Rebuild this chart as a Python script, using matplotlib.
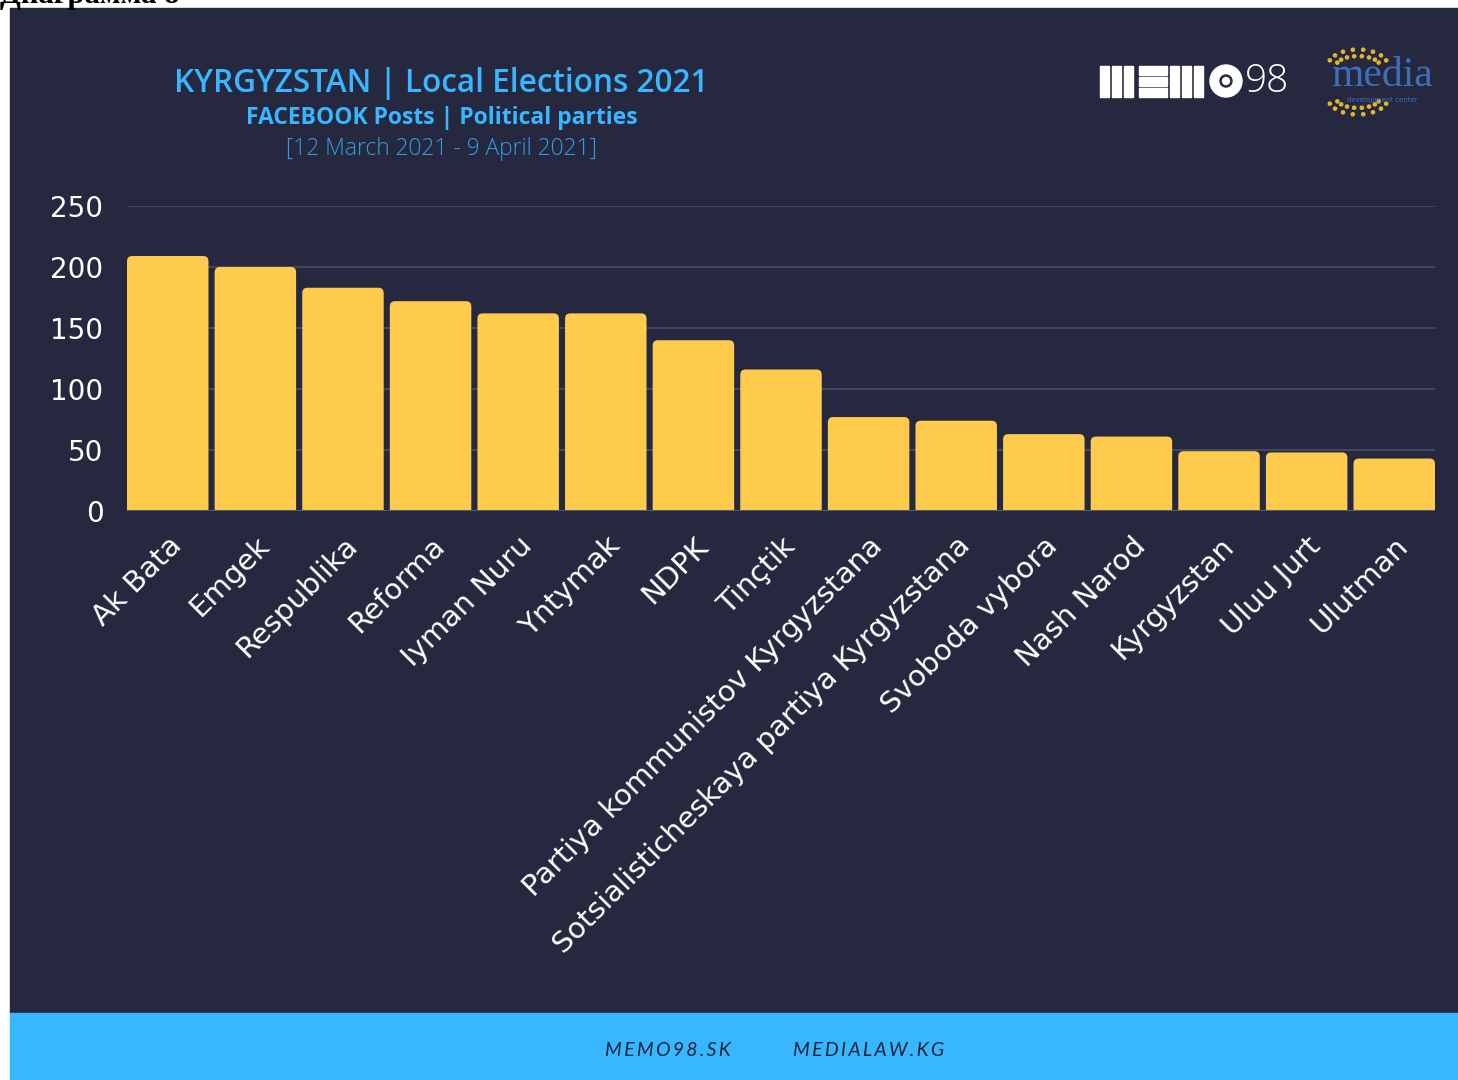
import numpy as np
import matplotlib.pyplot as plt
from matplotlib.patches import Rectangle, Circle, FancyBboxPatch

parties = ['Ak Bata', 'Emgek', 'Respublika', 'Reforma', 'Iyman Nuru', 'Yntymak',
           'NDPK', 'Tinçtik', 'Partiya kommunistov Kyrgyzstana',
           'Sotsialisticheskaya partiya Kyrgyzstana', 'Svoboda vybora',
           'Nash Narod', 'Kyrgyzstan', 'Uluu Jurt', 'Ulutman']
posts = [209, 200, 183, 172, 162, 162, 140, 116, 77, 74, 63, 61, 49, 48, 43]
yticks = [0, 50, 100, 150, 200, 250]

bg = '#262840'
yellow = '#FECB4D'
blue = '#38B6FF'

W, H = 1458, 1080
fig = plt.figure(figsize=(W / 100, H / 100), dpi=100)
fig.patch.set_facecolor('white')

def px(x, y):
    # pixel coords (top-left origin) -> figure fraction
    return x / W, 1 - y / H

# dark panel and footer
fig.patches.append(Rectangle(px(10, 1013), (W - 10) / W, 1005 / H,
                             transform=fig.transFigure, color=bg, zorder=-2))
fig.patches.append(Rectangle(px(10, 1080), (W - 10) / W, 67 / H,
                             transform=fig.transFigure, color=blue, zorder=-2))

# cut-off caption at very top
fig.text(0.0, 1 - 3 / H, 'Диаграмма 8', family='Liberation Serif',
         fontsize=22, fontweight='bold', color='black', va='baseline')

ax = fig.add_axes([127 / W, 1 - 511 / H, (1435 - 127) / W, 305 / H], zorder=1)
ax.set_facecolor(bg)
x = np.arange(len(parties))
bars = ax.bar(x, posts, width=0.93, color=yellow, zorder=3)
ax.set_xlim(-0.465, len(parties) - 0.535)
ax.set_ylim(0, 250)

# rounded tops: replace each bar with a rounded box of the same geometry
aspect = (305 / 250) ** -1 * (1308 / (len(parties) - 0.07))
for b in bars:
    b.set_visible(False)
    rb = FancyBboxPatch((b.get_x(), -10), b.get_width(), b.get_height() + 10,
                        boxstyle='round,pad=0,rounding_size=0.06',
                        mutation_aspect=aspect, facecolor=yellow,
                        edgecolor='none', zorder=3)
    ax.add_patch(rb)

ax.set_yticks(yticks)
ax.yaxis.grid(True, color='#4b4d63', linewidth=1.2, zorder=0)
ax.axhline(0, color='#5a5c70', linewidth=1.5, zorder=4)
for s in ax.spines.values():
    s.set_visible(False)
ax.tick_params(axis='both', length=0, colors='white')
ax.tick_params(axis='y', pad=17)
for lab in ax.get_yticklabels():
    lab.set_fontsize(20)
    lab.set_family('DejaVu Sans')
ax.set_xticks(x)
ax.set_xticklabels(parties, rotation=45, ha='right', rotation_mode='anchor',
                   fontsize=21, family='DejaVu Sans', color='white')
ax.tick_params(axis='x', pad=15)

# titles
fig.text(*px(441, 83), 'KYRGYZSTAN | Local Elections 2021', ha='center', va='center',
         fontsize=22.7, fontweight='semibold', family='Open Sans', color=blue)
fig.text(*px(442, 118), 'FACEBOOK Posts | Political parties', ha='center', va='center',
         fontsize=16.5, fontweight='bold', family='Open Sans', color=blue)
fig.text(*px(442, 149), '[12 March 2021 - 9 April 2021]', ha='center', va='center',
         fontsize=16.4, fontweight='light', family='Open Sans', color='#2f9de0')

# MEMO98 logo
def box(x0, y0, w, h):
    fig.patches.append(Rectangle(px(x0, y0 + h), w / W, h / H,
                                 transform=fig.transFigure, color='white', zorder=5))
for i in range(3):
    box(1100 + i * 12, 66, 9, 31)
for i in range(3):
    box(1139, 66 + i * 11, 28, 9)
for i in range(3):
    box(1170 + i * 12, 66, 9, 31)
cx, cy = 1226, H - 81
fig.patches.append(Circle((cx, cy), 16, transform=None, color='white', zorder=5))
fig.patches.append(Circle((cx, cy), 6, transform=None, color=bg, zorder=6))
fig.patches.append(Circle((cx, cy), 3.5, transform=None, color='white', zorder=7))
fig.text(*px(1267, 82), '98', ha='center', va='center', fontsize=28,
         family='Open Sans', fontweight='light', color='white')

# media development center logo
fig.text(*px(1382, 76), 'media', ha='center', va='center', fontsize=30,
         family='Liberation Serif', color='#3d6fb8', zorder=6)
fig.text(*px(1382, 100), 'development center', ha='center', va='center', fontsize=5,
         family='DejaVu Sans', color='#3d6fb8', zorder=6)
ang = np.linspace(0.35, np.pi - 0.35, 8)
for r, k in [(30, 0.55), (22, 0.45)]:
    dx = 1358 + r * np.cos(ang)
    top = 66 - k * r * np.sin(ang)
    bot = 98 + k * r * np.sin(ang)
    for a, b in zip(dx, top):
        fig.patches.append(Circle((a, H - b), 1.6, transform=None,
                                  color='#e0b82a', zorder=4))
    for a, b in zip(dx, bot):
        fig.patches.append(Circle((a, H - b), 1.6, transform=None,
                                  color='#e0b82a', zorder=4))

# footer
ft = '\u2009'
fig.text(*px(668, 1050), ft.join('MEMO98.SK'), ha='center', va='center', fontsize=14,
         family=['Lato', 'DejaVu Sans'], style='italic', color='#14253a')
fig.text(*px(869, 1050), ft.join('MEDIALAW.KG'), ha='center', va='center', fontsize=14,
         family=['Lato', 'DejaVu Sans'], style='italic', color='#14253a')

fig.savefig('out.png', dpi=100, facecolor=fig.get_facecolor())
